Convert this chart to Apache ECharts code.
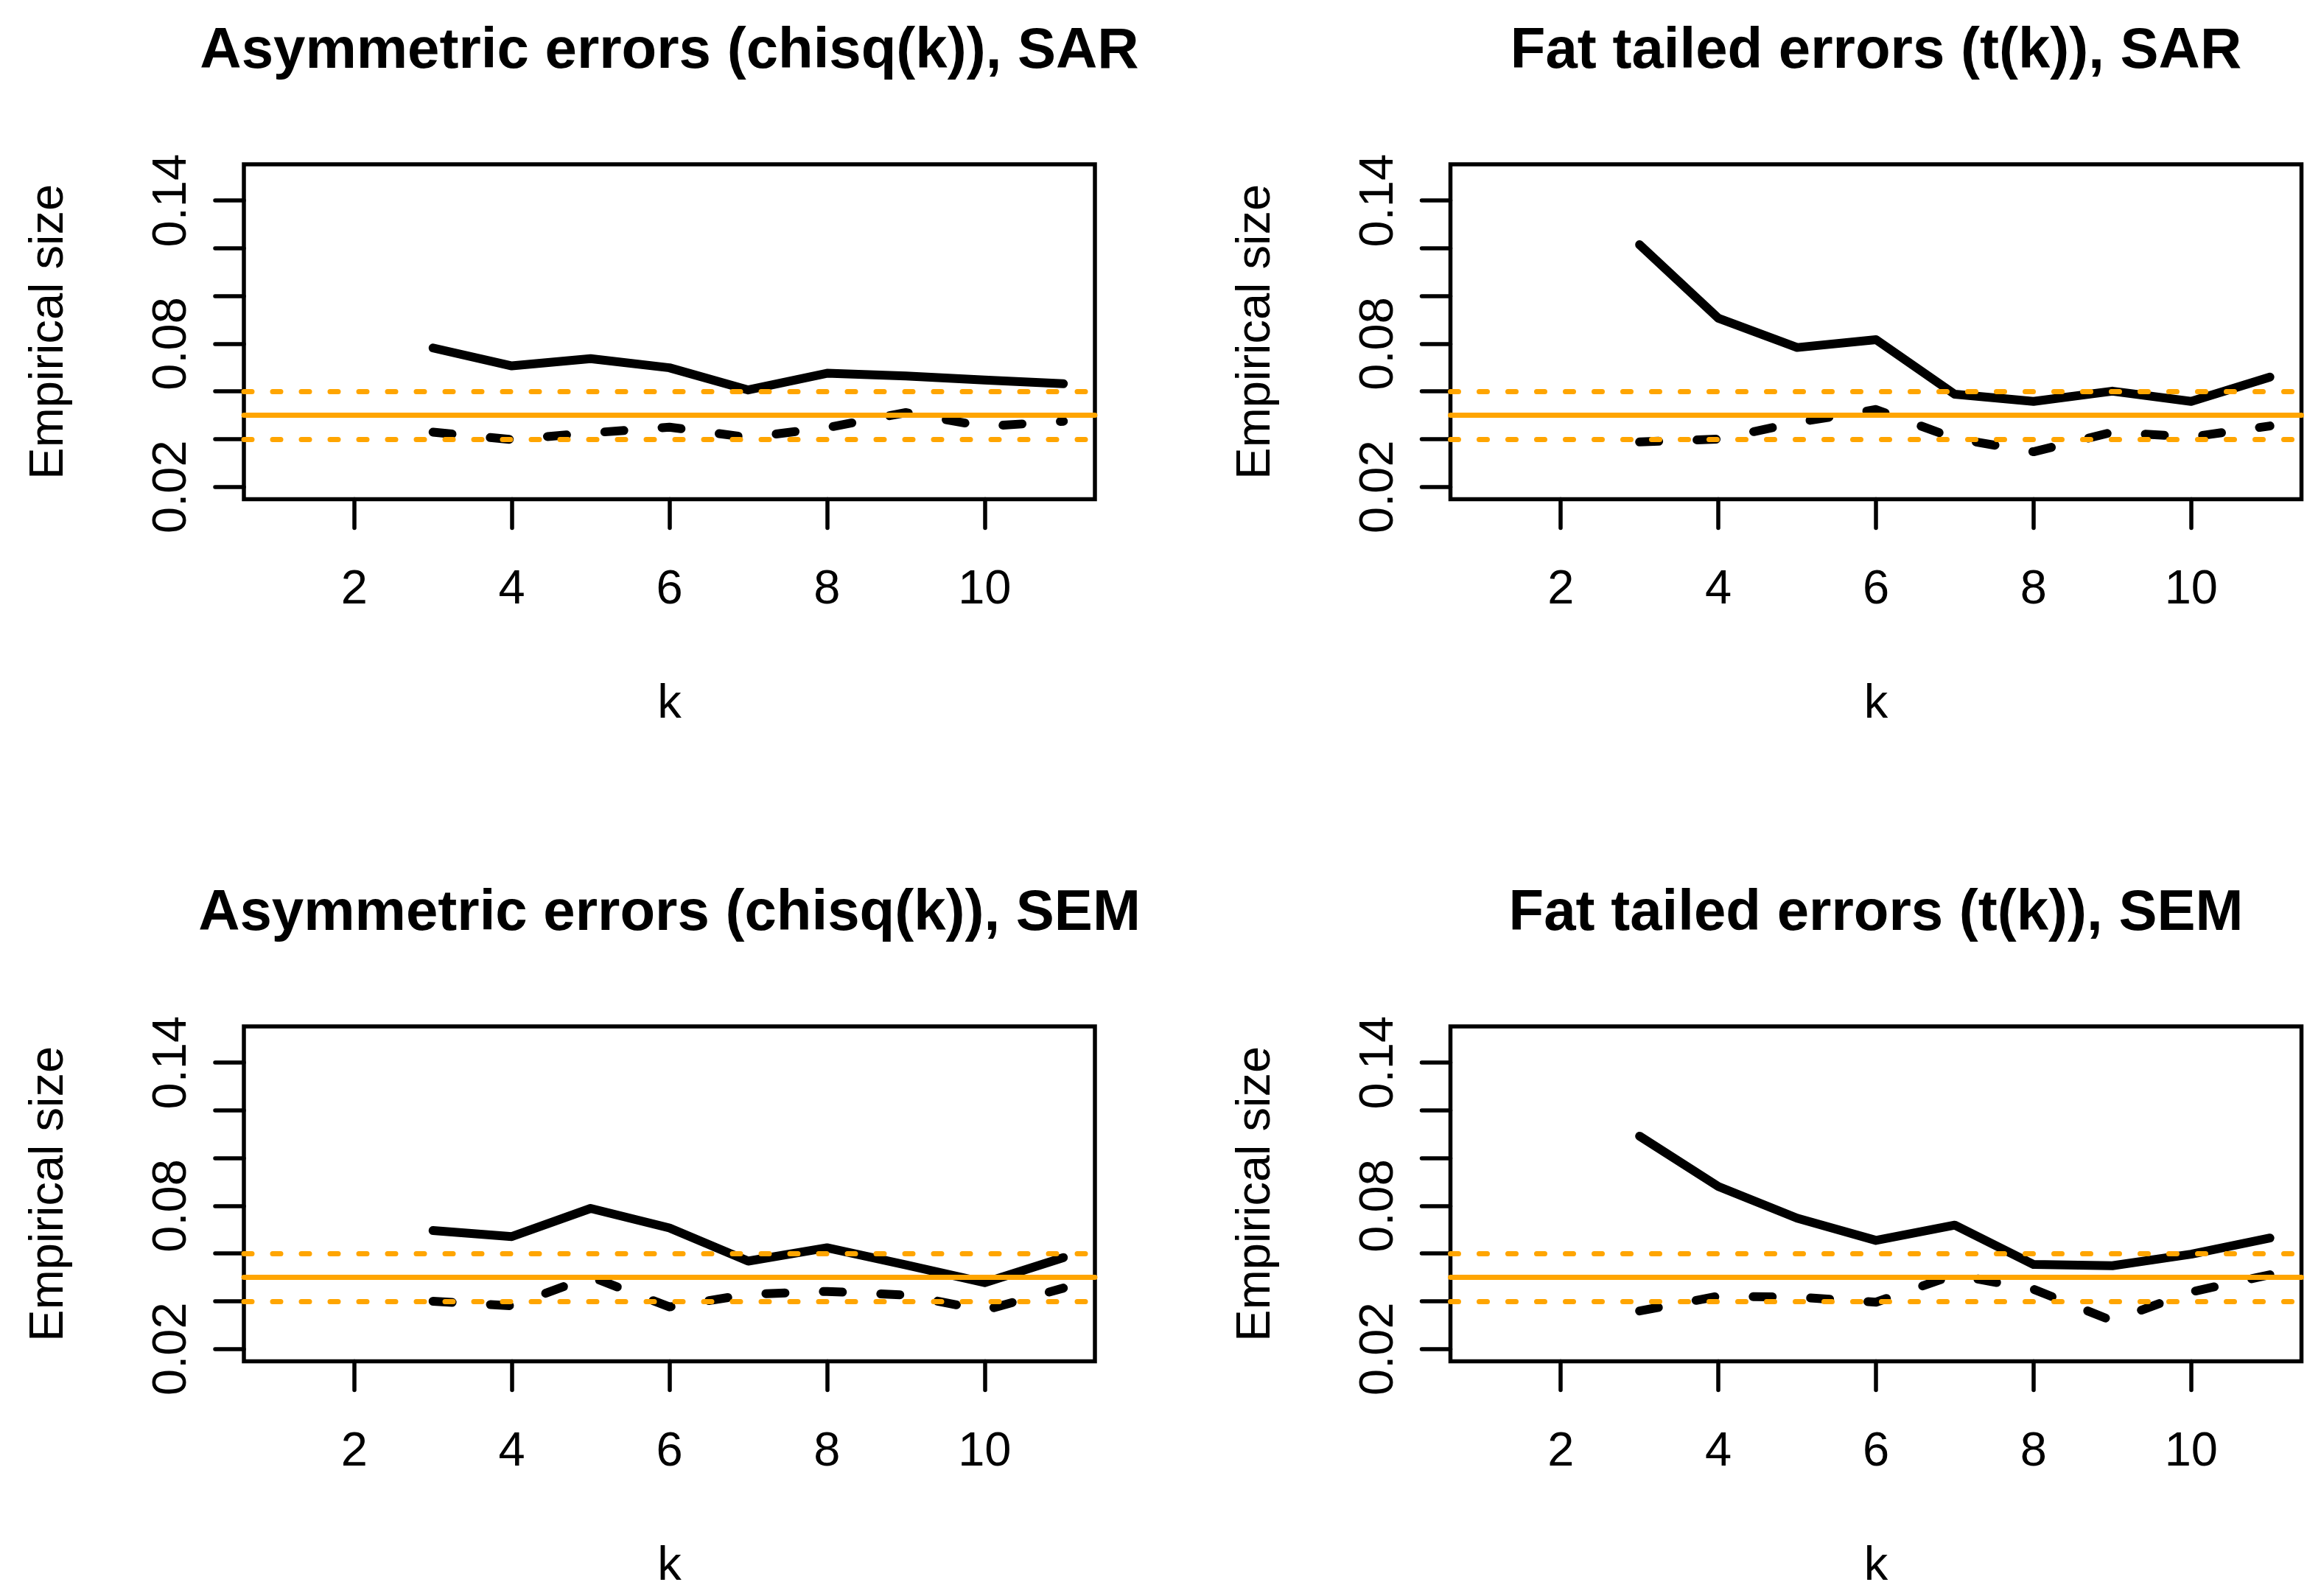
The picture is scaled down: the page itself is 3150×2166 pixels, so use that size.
<!DOCTYPE html>
<html>
<head>
<meta charset="utf-8">
<script src="https://cdn.jsdelivr.net/npm/echarts@6/dist/echarts.min.js"></script>
<style>
html, body { margin: 0; padding: 0; background: #fff; }
#chart { width: 3150px; height: 2166px; }
</style>
</head>
<body>
<div id="chart"></div>
<script>
// ---- data ----
const kValues = [3, 4, 5, 6, 7, 8, 9, 10, 11];
const panelTitles = [
  'Asymmetric errors (chisq(k)), SAR',
  'Fat tailed errors (t(k)), SAR',
  'Asymmetric errors (chisq(k)), SEM',
  'Fat tailed errors (t(k)), SEM'
];
const sarChisqSolid  = [0.0782, 0.0707, 0.0737, 0.0699, 0.0606, 0.0676, 0.0665, 0.0648, 0.0632];
const sarChisqDashed = [0.0429, 0.0398, 0.0426, 0.0450, 0.0407, 0.0448, 0.0511, 0.0453, 0.0475];
const sarTSolid      = [0.1215, 0.0907, 0.0784, 0.0817, 0.0588, 0.0558, 0.0601, 0.0558, 0.0660];
const sarTDashed     = [0.0388, 0.0400, 0.0470, 0.0524, 0.0403, 0.0347, 0.0429, 0.0409, 0.0455];
const semChisqSolid  = [0.0696, 0.0671, 0.0789, 0.0707, 0.0568, 0.0624, 0.0552, 0.0478, 0.0583];
const semChisqDashed = [0.0400, 0.0381, 0.0503, 0.0376, 0.0429, 0.0441, 0.0426, 0.0362, 0.0455];
const semTSolid      = [0.1092, 0.0881, 0.0748, 0.0655, 0.0719, 0.0554, 0.0549, 0.0597, 0.0665];
const semTDashed     = [0.0359, 0.0421, 0.0417, 0.0396, 0.0511, 0.0450, 0.0318, 0.0439, 0.0511];
const nominalSize = 0.05;
const bandLimits = [0.04, 0.06];
const xTicks = [2, 4, 6, 8, 10];
const yTicks = [0.02, 0.04, 0.06, 0.08, 0.10, 0.12, 0.14];
const yTickLabels = [0.02, 0.08, 0.14];
const xLimits = [0.6, 11.4];
const yLimits = [0.0148, 0.1552];

const solidSets = [sarChisqSolid, sarTSolid, semChisqSolid, semTSolid];
const dashedSets = [sarChisqDashed, sarTDashed, semChisqDashed, semTDashed];

// ---- layout ----
const FONT = '"Liberation Sans", Arial, Helvetica, sans-serif';
const gridLefts = [331, 1968.5];
const gridTops = [223, 1393];
const gridW = 1155, gridH = 454.5;

const grids = [], xAxes = [], yAxes = [], series = [], graphics = [];
for (let i = 0; i < 4; i++) {
  const col = i % 2, row = Math.floor(i / 2);
  const left = gridLefts[col], top = gridTops[row];
  grids.push({
    left: left, top: top, width: gridW, height: gridH,
    show: true, borderColor: '#000', borderWidth: 5.5, backgroundColor: 'transparent',
    containLabel: false, outerBoundsMode: 'none'
  });
  xAxes.push({
    type: 'value', gridIndex: i, min: xLimits[0], max: xLimits[1],
    axisLine: { show: false },
    splitLine: { show: false },
    axisTick: { show: true, length: 39, inside: false, customValues: xTicks,
      lineStyle: { color: '#000', width: 5.5, cap: 'round' } },
    axisLabel: { show: true, customValues: xTicks, margin: 91,
      color: '#000', fontSize: 65, fontFamily: FONT,
      formatter: v => String(Math.round(v)) },
    name: 'k', nameLocation: 'middle', nameGap: 246,
    nameTextStyle: { color: '#000', fontSize: 65, fontFamily: FONT }
  });
  yAxes.push({
    type: 'value', gridIndex: i, min: yLimits[0], max: yLimits[1],
    axisLine: { show: false },
    splitLine: { show: false },
    axisTick: { show: true, length: 39, inside: false, customValues: yTicks,
      lineStyle: { color: '#000', width: 5.5, cap: 'round' } },
    axisLabel: { show: true, customValues: yTickLabels, rotate: 90, margin: 64,
      color: '#000', fontSize: 65, fontFamily: FONT,
      formatter: v => v.toFixed(2) },
    name: 'Empirical size', nameLocation: 'middle', nameGap: 231,
    nameTextStyle: { color: '#000', fontSize: 65, fontFamily: FONT }
  });
  series.push({
    type: 'line', xAxisIndex: i, yAxisIndex: i, z: 2,
    data: kValues.map((k, j) => [k, solidSets[i][j]]),
    showSymbol: false, symbol: 'none',
    lineStyle: { color: '#000', width: 12, type: 'solid', cap: 'round', join: 'round' }
  });
  series.push({
    type: 'line', xAxisIndex: i, yAxisIndex: i, z: 2,
    data: kValues.map((k, j) => [k, dashedSets[i][j]]),
    showSymbol: false, symbol: 'none',
    lineStyle: { color: '#000', width: 12, type: [26, 52], cap: 'round', join: 'round' }
  });
  series.push({
    type: 'line', xAxisIndex: i, yAxisIndex: i, z: 5,
    data: [],
    markLine: {
      silent: true, symbol: ['none', 'none'], animation: false,
      label: { show: false },
      lineStyle: { color: '#FFA500', width: 7, cap: 'round' },
      data: [
        { yAxis: nominalSize, lineStyle: { type: 'solid', color: '#FFA500', width: 7 } },
        { yAxis: bandLimits[0], lineStyle: { type: [11, 28], color: '#FFA500', width: 7, cap: 'round' } },
        { yAxis: bandLimits[1], lineStyle: { type: [11, 28], color: '#FFA500', width: 7, cap: 'round' } }
      ]
    }
  });
  graphics.push({
    type: 'text',
    x: left + gridW / 2, y: top - 153,
    style: {
      text: panelTitles[i],
      font: 'bold 78px ' + FONT,
      fill: '#000',
      textAlign: 'center', textVerticalAlign: 'middle',
      align: 'center', verticalAlign: 'middle'
    }
  });
}

const chart = echarts.init(document.getElementById('chart'), null, { renderer: 'canvas' });
chart.setOption({
  backgroundColor: '#fff',
  animation: false,
  grid: grids,
  xAxis: xAxes,
  yAxis: yAxes,
  series: series,
  graphic: graphics
});
</script>
</body>
</html>
